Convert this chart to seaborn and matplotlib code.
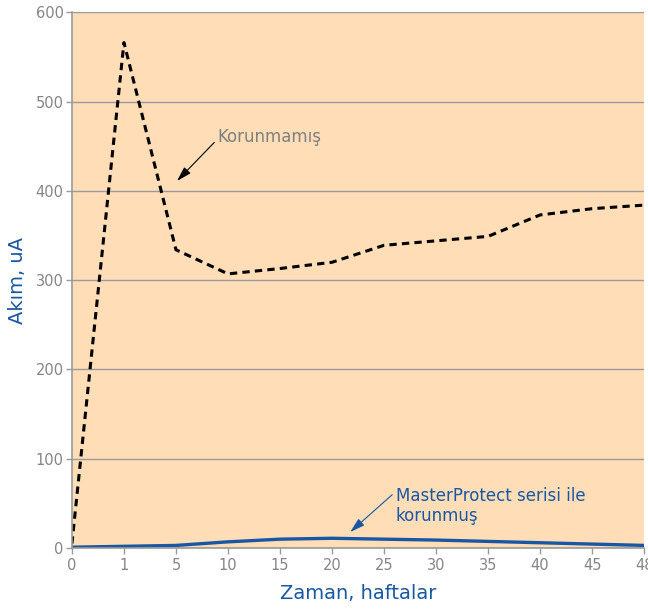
import matplotlib
matplotlib.use("Agg")
import matplotlib.pyplot as plt
import seaborn as sns
import pandas as pd

# Time axis (weeks) and measured current (uA)
weeks = ["0", "1", "5", "10", "15", "20", "25", "30", "35", "40", "45", "48"]
unprotected = [5, 566, 334, 307, 313, 320, 339, 344, 349, 373, 380, 384]
protected = [1, 2, 3, 7, 10, 11, 10, 9, 7.5, 6, 4.5, 3]
y_ticks = [0, 100, 200, 300, 400, 500, 600]

BG = "#FEDDB7"
GRID = "#9A9A9A"
BLUE = "#1857A4"
TICK = "#858585"

sns.set_theme(style="white")
plt.rcParams["font.family"] = ["DejaVu Sans"]

df = pd.DataFrame({"hafta": weeks, "korunmamis": unprotected, "korunmus": protected})

fig = plt.figure(figsize=(6.48, 6.09), dpi=100)
ax = fig.add_axes([0.111, 0.100, 0.883, 0.880])
ax.set_facecolor(BG)

sns.lineplot(data=df, x="hafta", y="korunmamis", ax=ax, color="black",
             linewidth=2.2, sort=False)
ax.lines[-1].set_dashes((2.4, 1.7))
sns.lineplot(data=df, x="hafta", y="korunmus", ax=ax, color=BLUE,
             linewidth=2.4, sort=False)

ax.set_xlim(0, len(weeks) - 1)
ax.set_ylim(0, 600)
ax.set_yticks(y_ticks)
ax.yaxis.grid(True, color=GRID, linewidth=1)
ax.xaxis.grid(False)
ax.set_axisbelow(True)

for side in ("top", "right"):
    ax.spines[side].set_visible(False)
for side in ("left", "bottom"):
    ax.spines[side].set_color(GRID)
    ax.spines[side].set_linewidth(1.2)

ax.tick_params(axis="both", colors=GRID, labelcolor=TICK, labelsize=10.5,
               length=4, width=1, direction="out", bottom=True, left=True)
ax.tick_params(axis="x", pad=3)
ax.tick_params(axis="y", pad=2)

ax.set_xlabel("Zaman, haftalar", color=BLUE, fontsize=14, labelpad=8)
ax.set_ylabel("Akım, uA", color=BLUE, fontsize=14, labelpad=6)

head = "-|>,head_length=0.75,head_width=0.22"
ax.annotate("Korunmamış", xy=(2.02, 411), xytext=(2.8, 460),
            color="#808080", fontsize=12, va="center", ha="left",
            arrowprops=dict(arrowstyle=head, color="black", lw=0.8,
                            shrinkA=0, shrinkB=0, relpos=(0, 0.4)))
ax.annotate("MasterProtect serisi ile\nkorunmuş", xy=(5.35, 18), xytext=(6.23, 47),
            color=BLUE, fontsize=12, va="center", ha="left", linespacing=1.15,
            arrowprops=dict(arrowstyle=head, color=BLUE, lw=0.8,
                            shrinkA=0, shrinkB=0, relpos=(-0.02, 0.8)))

fig.savefig("out.png", dpi=100, facecolor="white")
